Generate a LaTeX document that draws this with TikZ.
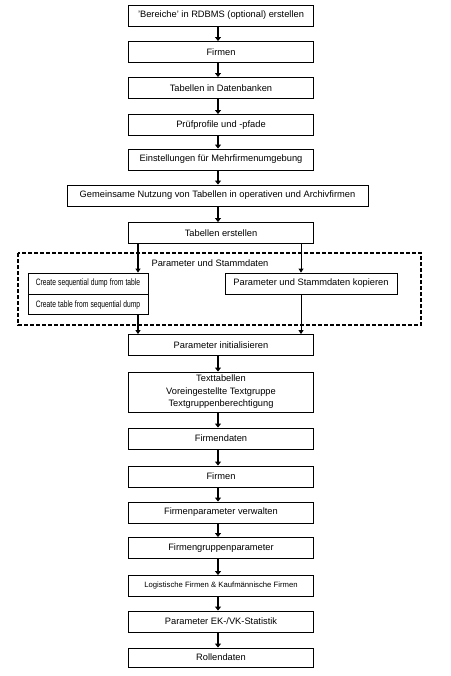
\documentclass[tikz,border=0pt]{standalone}
\usepackage{fontspec}
\setmainfont{Liberation Sans}
\usetikzlibrary{arrows.meta,calc}
\begin{document}
\begin{tikzpicture}[x=1pt,y=-1pt,
  box/.style={draw,line width=0.9pt,minimum width=185pt,minimum height=21pt,inner sep=0pt,font=\fontsize{9.3}{11}\selectfont,align=center},
  sub/.style={draw,line width=0.9pt,inner sep=0pt,font=\fontsize{9.3}{11}\selectfont},
  thickarr/.style={line width=2.4pt,-{Triangle[width=6pt,length=4pt]}},
  thinarr/.style={line width=0.9pt,-{Triangle[width=5pt,length=4pt]}},
  group/.style={draw,line width=1.4pt,dash pattern=on 4pt off 2pt}]
\useasboundingbox (0,0) rectangle (450,676);
\fill[white] (0,0) rectangle (450,676);
\coordinate (ax) at (218,0);
\node[box] (b1) at (221,15.5) {'Bereiche' in RDBMS (optional) erstellen};
\node[box] (b2) at (221,52) {Firmen};
\node[box] (b3) at (221,88) {Tabellen in Datenbanken};
\node[box] (b4) at (221,125) {Prüfprofile und -pfade};
\node[box] (b5) at (221,159.5) {Einstellungen für Mehrfirmenumgebung};
\node[box,minimum width=301pt] (b6) at (217.5,195.5) {Gemeinsame Nutzung von Tabellen in operativen und Archivfirmen};
\node[box] (b7) at (221,233) {Tabellen erstellen};
\draw[group] (18,253) rectangle (421,325);
\node[font=\fontsize{9.3}{11}\selectfont] (gl) at (210,263) {Parameter und Stammdaten};
\node[sub,minimum width=120pt,minimum height=21pt,text width=120pt,align=center] (l1) at (88,283.5) {\scalebox{0.72}[1]{Create sequential dump from table}};
\node[sub,minimum width=120pt,minimum height=20pt,text width=120pt,align=center,anchor=north] (l2) at (l1.south) {\scalebox{0.72}[1]{Create table from sequential dump}};
\node[sub,minimum width=172pt,minimum height=21pt] (r1) at (311,283.5) {Parameter und Stammdaten kopieren};
\node[box] (b8) at (221,345) {Parameter initialisieren};
\node[box,minimum height=40pt,font=\fontsize{9.3}{12.5}\selectfont] (b9) at (221,392) {Texttabellen\\Voreingestellte Textgruppe\\Textgruppenberechtigung};
\node[box] (b10) at (221,438.5) {Firmendaten};
\node[box] (b11) at (221,476.5) {Firmen};
\node[box] (b12) at (221,512.5) {Firmenparameter verwalten};
\node[box] (b13) at (221,548) {Firmengruppenparameter};
\node[box,font=\fontsize{7.7}{9}\selectfont] (b14) at (221,586) {Logistische Firmen \& Kaufmännische Firmen};
\node[box] (b15) at (221,621.5) {Parameter EK-/VK-Statistik};
\node[box,minimum height=19pt] (b16) at (221,657.5) {Rollendaten};
\coordinate (lx) at (138,0);
\coordinate (rx) at (301,0);
\foreach \a/\b in {b1/b2,b2/b3,b3/b4,b4/b5,b5/b6,b6/b7,b8/b9,b9/b10,b10/b11,b11/b12,b12/b13,b13/b14,b14/b15,b15/b16}
  \draw[thickarr] (\a.south -| ax) -- (\b.north -| ax);
\draw[line width=1.8pt,-{Triangle[width=5pt,length=4pt]}] (b7.south -| lx) -- (l1.north -| lx);
\draw[thinarr] (b7.south -| rx) -- (r1.north -| rx);
\draw[line width=1.8pt,-{Triangle[width=5pt,length=4pt]}] (l2.south -| lx) -- (b8.north -| lx);
\draw[thinarr] (r1.south -| rx) -- (b8.north -| rx);
\end{tikzpicture}
\end{document}
